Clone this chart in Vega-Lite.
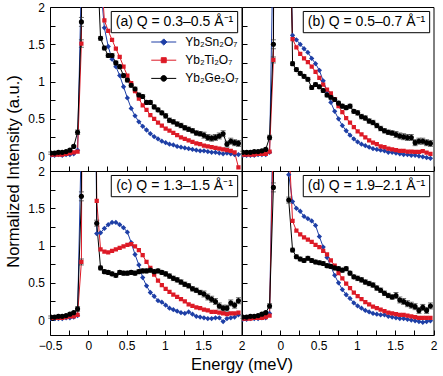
{
"$schema":"https://vega.github.io/schema/vega-lite/v6.json",
"autosize":{"type":"pad"},
"padding":{"left":4,"top":0,"right":5,"bottom":5},
"background":"white",
"config":{
"font":"Liberation Sans",
"view":{"stroke":"#000","strokeWidth":1},
"axis":{"domain":false,"grid":false,"tickSize":-5,"tickColor":"#000","tickWidth":1,"labelFontSize":12,"labelColor":"#000","labelFlush":false,"labelOverlap":false,"labelSeparation":-30,"labelPadding":10.5,"titleFontSize":16.5,"titleFontWeight":"normal","titleColor":"#000"}
},
"datasets":{"d":[
{"p":"a","s":"Sn","x":-0.49,"y":0.01},{"p":"a","s":"Sn","x":-0.44,"y":0.01},{"p":"a","s":"Sn","x":-0.39,"y":0.02},{"p":"a","s":"Sn","x":-0.34,"y":0.01},{"p":"a","s":"Sn","x":-0.29,"y":0.02},{"p":"a","s":"Sn","x":-0.24,"y":0.02},{"p":"a","s":"Sn","x":-0.19,"y":0.03},{"p":"a","s":"Sn","x":-0.14,"y":0.08},{"p":"a","s":"Sn","x":-0.09,"y":2.4},{"p":"a","s":"Sn","x":-0.04,"y":15},{"p":"a","s":"Sn","x":0.01,"y":25},{"p":"a","s":"Sn","x":0.06,"y":14},{"p":"a","s":"Sn","x":0.11,"y":4.5},{"p":"a","s":"Sn","x":0.16,"y":2.3},{"p":"a","s":"Sn","x":0.21,"y":1.72},{"p":"a","s":"Sn","x":0.26,"y":1.47},{"p":"a","s":"Sn","x":0.31,"y":1.30},{"p":"a","s":"Sn","x":0.36,"y":1.20},{"p":"a","s":"Sn","x":0.41,"y":1.08},{"p":"a","s":"Sn","x":0.46,"y":0.93},{"p":"a","s":"Sn","x":0.51,"y":0.78},{"p":"a","s":"Sn","x":0.56,"y":0.64},{"p":"a","s":"Sn","x":0.61,"y":0.54},{"p":"a","s":"Sn","x":0.66,"y":0.46},{"p":"a","s":"Sn","x":0.71,"y":0.40},{"p":"a","s":"Sn","x":0.76,"y":0.35},{"p":"a","s":"Sn","x":0.81,"y":0.30},{"p":"a","s":"Sn","x":0.86,"y":0.26},{"p":"a","s":"Sn","x":0.91,"y":0.23},{"p":"a","s":"Sn","x":0.96,"y":0.20},{"p":"a","s":"Sn","x":1.01,"y":0.18},{"p":"a","s":"Sn","x":1.06,"y":0.16},{"p":"a","s":"Sn","x":1.11,"y":0.15},{"p":"a","s":"Sn","x":1.16,"y":0.13},{"p":"a","s":"Sn","x":1.21,"y":0.12},{"p":"a","s":"Sn","x":1.26,"y":0.11},{"p":"a","s":"Sn","x":1.31,"y":0.10},{"p":"a","s":"Sn","x":1.36,"y":0.09},{"p":"a","s":"Sn","x":1.41,"y":0.08},{"p":"a","s":"Sn","x":1.46,"y":0.07},{"p":"a","s":"Sn","x":1.51,"y":0.07},{"p":"a","s":"Sn","x":1.56,"y":0.06},{"p":"a","s":"Sn","x":1.61,"y":0.05},{"p":"a","s":"Sn","x":1.66,"y":0.05},{"p":"a","s":"Sn","x":1.71,"y":0.04},{"p":"a","s":"Sn","x":1.76,"y":0.03},{"p":"a","s":"Sn","x":1.81,"y":0.04},{"p":"a","s":"Sn","x":1.86,"y":0.03},{"p":"a","s":"Sn","x":1.91,"y":0.02},{"p":"a","s":"Sn","x":1.96,"y":0.02},
{"p":"a","s":"Ti","x":-0.49,"y":0.02},{"p":"a","s":"Ti","x":-0.44,"y":0.02},{"p":"a","s":"Ti","x":-0.39,"y":0.02},{"p":"a","s":"Ti","x":-0.34,"y":0.02},{"p":"a","s":"Ti","x":-0.29,"y":0.03},{"p":"a","s":"Ti","x":-0.24,"y":0.04},{"p":"a","s":"Ti","x":-0.19,"y":0.05},{"p":"a","s":"Ti","x":-0.14,"y":0.06},{"p":"a","s":"Ti","x":-0.09,"y":1.51,"e":0.05},{"p":"a","s":"Ti","x":-0.04,"y":14},{"p":"a","s":"Ti","x":0.01,"y":24},{"p":"a","s":"Ti","x":0.06,"y":13},{"p":"a","s":"Ti","x":0.11,"y":5},{"p":"a","s":"Ti","x":0.16,"y":2.6},{"p":"a","s":"Ti","x":0.21,"y":1.82},{"p":"a","s":"Ti","x":0.26,"y":1.68},{"p":"a","s":"Ti","x":0.31,"y":1.56},{"p":"a","s":"Ti","x":0.36,"y":1.44},{"p":"a","s":"Ti","x":0.41,"y":1.33},{"p":"a","s":"Ti","x":0.46,"y":1.20},{"p":"a","s":"Ti","x":0.51,"y":1.08},{"p":"a","s":"Ti","x":0.56,"y":0.98},{"p":"a","s":"Ti","x":0.61,"y":0.87},{"p":"a","s":"Ti","x":0.66,"y":0.77},{"p":"a","s":"Ti","x":0.71,"y":0.68},{"p":"a","s":"Ti","x":0.76,"y":0.62},{"p":"a","s":"Ti","x":0.81,"y":0.55},{"p":"a","s":"Ti","x":0.86,"y":0.50},{"p":"a","s":"Ti","x":0.91,"y":0.45},{"p":"a","s":"Ti","x":0.96,"y":0.41},{"p":"a","s":"Ti","x":1.01,"y":0.37},{"p":"a","s":"Ti","x":1.06,"y":0.34},{"p":"a","s":"Ti","x":1.11,"y":0.31},{"p":"a","s":"Ti","x":1.16,"y":0.28},{"p":"a","s":"Ti","x":1.21,"y":0.25},{"p":"a","s":"Ti","x":1.26,"y":0.23},{"p":"a","s":"Ti","x":1.31,"y":0.21},{"p":"a","s":"Ti","x":1.36,"y":0.19},{"p":"a","s":"Ti","x":1.41,"y":0.17},{"p":"a","s":"Ti","x":1.46,"y":0.16},{"p":"a","s":"Ti","x":1.51,"y":0.14},{"p":"a","s":"Ti","x":1.56,"y":0.13},{"p":"a","s":"Ti","x":1.61,"y":0.12},{"p":"a","s":"Ti","x":1.66,"y":0.11},{"p":"a","s":"Ti","x":1.71,"y":0.10},{"p":"a","s":"Ti","x":1.76,"y":0.09},{"p":"a","s":"Ti","x":1.81,"y":0.08},{"p":"a","s":"Ti","x":1.86,"y":0.07},{"p":"a","s":"Ti","x":1.91,"y":0.05},{"p":"a","s":"Ti","x":1.96,"y":-0.15},
{"p":"a","s":"Ge","x":-0.49,"y":0.04,"e":0.015},{"p":"a","s":"Ge","x":-0.44,"y":0.04,"e":0.015},{"p":"a","s":"Ge","x":-0.39,"y":0.05,"e":0.015},{"p":"a","s":"Ge","x":-0.34,"y":0.05,"e":0.015},{"p":"a","s":"Ge","x":-0.29,"y":0.06,"e":0.015},{"p":"a","s":"Ge","x":-0.24,"y":0.08,"e":0.015},{"p":"a","s":"Ge","x":-0.19,"y":0.13,"e":0.015},{"p":"a","s":"Ge","x":-0.14,"y":0.32,"e":0.03},{"p":"a","s":"Ge","x":-0.09,"y":1.80,"e":0.06},{"p":"a","s":"Ge","x":-0.04,"y":14},{"p":"a","s":"Ge","x":0.01,"y":22},{"p":"a","s":"Ge","x":0.06,"y":10},{"p":"a","s":"Ge","x":0.11,"y":2.8},{"p":"a","s":"Ge","x":0.16,"y":1.58,"e":0.025},{"p":"a","s":"Ge","x":0.21,"y":1.45,"e":0.025},{"p":"a","s":"Ge","x":0.26,"y":1.35,"e":0.025},{"p":"a","s":"Ge","x":0.31,"y":1.35,"e":0.025},{"p":"a","s":"Ge","x":0.36,"y":1.25,"e":0.025},{"p":"a","s":"Ge","x":0.41,"y":1.20,"e":0.025},{"p":"a","s":"Ge","x":0.46,"y":1.08,"e":0.025},{"p":"a","s":"Ge","x":0.51,"y":1.02,"e":0.025},{"p":"a","s":"Ge","x":0.56,"y":0.95,"e":0.025},{"p":"a","s":"Ge","x":0.61,"y":0.90,"e":0.025},{"p":"a","s":"Ge","x":0.66,"y":0.82,"e":0.025},{"p":"a","s":"Ge","x":0.71,"y":0.80,"e":0.025},{"p":"a","s":"Ge","x":0.76,"y":0.72,"e":0.025},{"p":"a","s":"Ge","x":0.81,"y":0.72,"e":0.025},{"p":"a","s":"Ge","x":0.86,"y":0.66,"e":0.025},{"p":"a","s":"Ge","x":0.91,"y":0.62,"e":0.025},{"p":"a","s":"Ge","x":0.96,"y":0.58,"e":0.025},{"p":"a","s":"Ge","x":1.01,"y":0.54,"e":0.03},{"p":"a","s":"Ge","x":1.06,"y":0.48,"e":0.03},{"p":"a","s":"Ge","x":1.11,"y":0.46,"e":0.03},{"p":"a","s":"Ge","x":1.16,"y":0.43,"e":0.03},{"p":"a","s":"Ge","x":1.21,"y":0.41,"e":0.03},{"p":"a","s":"Ge","x":1.26,"y":0.38,"e":0.03},{"p":"a","s":"Ge","x":1.31,"y":0.36,"e":0.03},{"p":"a","s":"Ge","x":1.36,"y":0.34,"e":0.03},{"p":"a","s":"Ge","x":1.41,"y":0.31,"e":0.03},{"p":"a","s":"Ge","x":1.46,"y":0.30,"e":0.03},{"p":"a","s":"Ge","x":1.51,"y":0.28,"e":0.04},{"p":"a","s":"Ge","x":1.56,"y":0.25,"e":0.04},{"p":"a","s":"Ge","x":1.61,"y":0.24,"e":0.04},{"p":"a","s":"Ge","x":1.66,"y":0.25,"e":0.04},{"p":"a","s":"Ge","x":1.71,"y":0.27,"e":0.04},{"p":"a","s":"Ge","x":1.76,"y":0.30,"e":0.04},{"p":"a","s":"Ge","x":1.81,"y":0.16,"e":0.04},{"p":"a","s":"Ge","x":1.86,"y":0.20,"e":0.04},{"p":"a","s":"Ge","x":1.91,"y":0.18,"e":0.04},{"p":"a","s":"Ge","x":1.96,"y":0.17,"e":0.04},
{"p":"b","s":"Sn","x":-0.49,"y":0.01},{"p":"b","s":"Sn","x":-0.44,"y":0.01},{"p":"b","s":"Sn","x":-0.39,"y":0.01},{"p":"b","s":"Sn","x":-0.34,"y":0.01},{"p":"b","s":"Sn","x":-0.29,"y":0.02},{"p":"b","s":"Sn","x":-0.24,"y":0.02},{"p":"b","s":"Sn","x":-0.19,"y":0.02},{"p":"b","s":"Sn","x":-0.14,"y":0.05},{"p":"b","s":"Sn","x":-0.09,"y":3},{"p":"b","s":"Sn","x":-0.04,"y":20},{"p":"b","s":"Sn","x":0.01,"y":30},{"p":"b","s":"Sn","x":0.06,"y":15},{"p":"b","s":"Sn","x":0.11,"y":3.5},{"p":"b","s":"Sn","x":0.16,"y":1.62},{"p":"b","s":"Sn","x":0.21,"y":1.56},{"p":"b","s":"Sn","x":0.26,"y":1.50},{"p":"b","s":"Sn","x":0.31,"y":1.44},{"p":"b","s":"Sn","x":0.36,"y":1.39},{"p":"b","s":"Sn","x":0.41,"y":1.31},{"p":"b","s":"Sn","x":0.46,"y":1.24},{"p":"b","s":"Sn","x":0.51,"y":1.15},{"p":"b","s":"Sn","x":0.56,"y":1.01},{"p":"b","s":"Sn","x":0.61,"y":0.87},{"p":"b","s":"Sn","x":0.66,"y":0.72},{"p":"b","s":"Sn","x":0.71,"y":0.60},{"p":"b","s":"Sn","x":0.76,"y":0.50},{"p":"b","s":"Sn","x":0.81,"y":0.41},{"p":"b","s":"Sn","x":0.86,"y":0.34},{"p":"b","s":"Sn","x":0.91,"y":0.28},{"p":"b","s":"Sn","x":0.96,"y":0.23},{"p":"b","s":"Sn","x":1.01,"y":0.19},{"p":"b","s":"Sn","x":1.06,"y":0.16},{"p":"b","s":"Sn","x":1.11,"y":0.14},{"p":"b","s":"Sn","x":1.16,"y":0.12},{"p":"b","s":"Sn","x":1.21,"y":0.10},{"p":"b","s":"Sn","x":1.26,"y":0.09},{"p":"b","s":"Sn","x":1.31,"y":0.08},{"p":"b","s":"Sn","x":1.36,"y":0.07},{"p":"b","s":"Sn","x":1.41,"y":0.05},{"p":"b","s":"Sn","x":1.46,"y":0.05},{"p":"b","s":"Sn","x":1.51,"y":0.04},{"p":"b","s":"Sn","x":1.56,"y":0.03},{"p":"b","s":"Sn","x":1.61,"y":0.02},{"p":"b","s":"Sn","x":1.66,"y":0.02},{"p":"b","s":"Sn","x":1.71,"y":0.01},{"p":"b","s":"Sn","x":1.76,"y":0.01},{"p":"b","s":"Sn","x":1.81,"y":0.0},{"p":"b","s":"Sn","x":1.86,"y":-0.01},{"p":"b","s":"Sn","x":1.91,"y":-0.02},{"p":"b","s":"Sn","x":1.96,"y":-0.03},
{"p":"b","s":"Ti","x":-0.49,"y":0.02},{"p":"b","s":"Ti","x":-0.44,"y":0.02},{"p":"b","s":"Ti","x":-0.39,"y":0.02},{"p":"b","s":"Ti","x":-0.34,"y":0.02},{"p":"b","s":"Ti","x":-0.29,"y":0.03},{"p":"b","s":"Ti","x":-0.24,"y":0.03},{"p":"b","s":"Ti","x":-0.19,"y":0.03},{"p":"b","s":"Ti","x":-0.14,"y":0.06},{"p":"b","s":"Ti","x":-0.09,"y":1.29,"e":0.04},{"p":"b","s":"Ti","x":-0.04,"y":18},{"p":"b","s":"Ti","x":0.01,"y":28},{"p":"b","s":"Ti","x":0.06,"y":14},{"p":"b","s":"Ti","x":0.11,"y":3.2},{"p":"b","s":"Ti","x":0.16,"y":1.57},{"p":"b","s":"Ti","x":0.21,"y":1.46},{"p":"b","s":"Ti","x":0.26,"y":1.37},{"p":"b","s":"Ti","x":0.31,"y":1.31},{"p":"b","s":"Ti","x":0.36,"y":1.26},{"p":"b","s":"Ti","x":0.41,"y":1.20},{"p":"b","s":"Ti","x":0.46,"y":1.13},{"p":"b","s":"Ti","x":0.51,"y":1.05},{"p":"b","s":"Ti","x":0.56,"y":0.96},{"p":"b","s":"Ti","x":0.61,"y":0.89},{"p":"b","s":"Ti","x":0.66,"y":0.84},{"p":"b","s":"Ti","x":0.71,"y":0.76},{"p":"b","s":"Ti","x":0.76,"y":0.67},{"p":"b","s":"Ti","x":0.81,"y":0.59},{"p":"b","s":"Ti","x":0.86,"y":0.51},{"p":"b","s":"Ti","x":0.91,"y":0.45},{"p":"b","s":"Ti","x":0.96,"y":0.39},{"p":"b","s":"Ti","x":1.01,"y":0.33},{"p":"b","s":"Ti","x":1.06,"y":0.29},{"p":"b","s":"Ti","x":1.11,"y":0.25},{"p":"b","s":"Ti","x":1.16,"y":0.21},{"p":"b","s":"Ti","x":1.21,"y":0.18},{"p":"b","s":"Ti","x":1.26,"y":0.16},{"p":"b","s":"Ti","x":1.31,"y":0.13},{"p":"b","s":"Ti","x":1.36,"y":0.12},{"p":"b","s":"Ti","x":1.41,"y":0.10},{"p":"b","s":"Ti","x":1.46,"y":0.09},{"p":"b","s":"Ti","x":1.51,"y":0.08},{"p":"b","s":"Ti","x":1.56,"y":0.07},{"p":"b","s":"Ti","x":1.61,"y":0.07},{"p":"b","s":"Ti","x":1.66,"y":0.06},{"p":"b","s":"Ti","x":1.71,"y":0.06},{"p":"b","s":"Ti","x":1.76,"y":0.055},{"p":"b","s":"Ti","x":1.81,"y":0.055},{"p":"b","s":"Ti","x":1.86,"y":0.065},{"p":"b","s":"Ti","x":1.91,"y":0.045},{"p":"b","s":"Ti","x":1.96,"y":0.03},
{"p":"b","s":"Ge","x":-0.49,"y":0.05,"e":0.015},{"p":"b","s":"Ge","x":-0.44,"y":0.05,"e":0.015},{"p":"b","s":"Ge","x":-0.39,"y":0.05,"e":0.015},{"p":"b","s":"Ge","x":-0.34,"y":0.06,"e":0.015},{"p":"b","s":"Ge","x":-0.29,"y":0.06,"e":0.015},{"p":"b","s":"Ge","x":-0.24,"y":0.07,"e":0.015},{"p":"b","s":"Ge","x":-0.19,"y":0.09,"e":0.015},{"p":"b","s":"Ge","x":-0.14,"y":0.25,"e":0.03},{"p":"b","s":"Ge","x":-0.09,"y":1.50,"e":0.06},{"p":"b","s":"Ge","x":-0.04,"y":15},{"p":"b","s":"Ge","x":0.01,"y":25},{"p":"b","s":"Ge","x":0.06,"y":12},{"p":"b","s":"Ge","x":0.11,"y":5},{"p":"b","s":"Ge","x":0.16,"y":1.24,"e":0.025},{"p":"b","s":"Ge","x":0.21,"y":1.16,"e":0.025},{"p":"b","s":"Ge","x":0.26,"y":1.11,"e":0.025},{"p":"b","s":"Ge","x":0.31,"y":1.07,"e":0.025},{"p":"b","s":"Ge","x":0.36,"y":1.03,"e":0.025},{"p":"b","s":"Ge","x":0.41,"y":0.92,"e":0.025},{"p":"b","s":"Ge","x":0.46,"y":0.96,"e":0.025},{"p":"b","s":"Ge","x":0.51,"y":0.93,"e":0.025},{"p":"b","s":"Ge","x":0.56,"y":0.88,"e":0.025},{"p":"b","s":"Ge","x":0.61,"y":0.82,"e":0.025},{"p":"b","s":"Ge","x":0.66,"y":0.79,"e":0.025},{"p":"b","s":"Ge","x":0.71,"y":0.76,"e":0.025},{"p":"b","s":"Ge","x":0.76,"y":0.71,"e":0.025},{"p":"b","s":"Ge","x":0.81,"y":0.67,"e":0.025},{"p":"b","s":"Ge","x":0.86,"y":0.65,"e":0.025},{"p":"b","s":"Ge","x":0.91,"y":0.67,"e":0.025},{"p":"b","s":"Ge","x":0.96,"y":0.60,"e":0.025},{"p":"b","s":"Ge","x":1.01,"y":0.58,"e":0.03},{"p":"b","s":"Ge","x":1.06,"y":0.53,"e":0.03},{"p":"b","s":"Ge","x":1.11,"y":0.51,"e":0.03},{"p":"b","s":"Ge","x":1.16,"y":0.47,"e":0.03},{"p":"b","s":"Ge","x":1.21,"y":0.45,"e":0.03},{"p":"b","s":"Ge","x":1.26,"y":0.41,"e":0.03},{"p":"b","s":"Ge","x":1.31,"y":0.37,"e":0.03},{"p":"b","s":"Ge","x":1.36,"y":0.34,"e":0.03},{"p":"b","s":"Ge","x":1.41,"y":0.32,"e":0.03},{"p":"b","s":"Ge","x":1.46,"y":0.31,"e":0.03},{"p":"b","s":"Ge","x":1.51,"y":0.29,"e":0.04},{"p":"b","s":"Ge","x":1.56,"y":0.27,"e":0.04},{"p":"b","s":"Ge","x":1.61,"y":0.26,"e":0.04},{"p":"b","s":"Ge","x":1.66,"y":0.25,"e":0.04},{"p":"b","s":"Ge","x":1.71,"y":0.25,"e":0.04},{"p":"b","s":"Ge","x":1.76,"y":0.18,"e":0.04},{"p":"b","s":"Ge","x":1.81,"y":0.20,"e":0.04},{"p":"b","s":"Ge","x":1.86,"y":0.20,"e":0.04},{"p":"b","s":"Ge","x":1.91,"y":0.18,"e":0.04},{"p":"b","s":"Ge","x":1.96,"y":0.17,"e":0.04},
{"p":"c","s":"Sn","x":-0.49,"y":0.02},{"p":"c","s":"Sn","x":-0.44,"y":0.02},{"p":"c","s":"Sn","x":-0.39,"y":0.02},{"p":"c","s":"Sn","x":-0.34,"y":0.02},{"p":"c","s":"Sn","x":-0.29,"y":0.03},{"p":"c","s":"Sn","x":-0.24,"y":0.03},{"p":"c","s":"Sn","x":-0.19,"y":0.04},{"p":"c","s":"Sn","x":-0.14,"y":0.06},{"p":"c","s":"Sn","x":-0.09,"y":2.5},{"p":"c","s":"Sn","x":-0.04,"y":20},{"p":"c","s":"Sn","x":0.01,"y":30},{"p":"c","s":"Sn","x":0.06,"y":8},{"p":"c","s":"Sn","x":0.11,"y":1.16},{"p":"c","s":"Sn","x":0.16,"y":1.17},{"p":"c","s":"Sn","x":0.21,"y":1.23},{"p":"c","s":"Sn","x":0.26,"y":1.28},{"p":"c","s":"Sn","x":0.31,"y":1.31},{"p":"c","s":"Sn","x":0.36,"y":1.31},{"p":"c","s":"Sn","x":0.41,"y":1.28},{"p":"c","s":"Sn","x":0.46,"y":1.24},{"p":"c","s":"Sn","x":0.51,"y":1.18},{"p":"c","s":"Sn","x":0.56,"y":1.04},{"p":"c","s":"Sn","x":0.61,"y":0.88},{"p":"c","s":"Sn","x":0.66,"y":0.74},{"p":"c","s":"Sn","x":0.71,"y":0.57},{"p":"c","s":"Sn","x":0.76,"y":0.46},{"p":"c","s":"Sn","x":0.81,"y":0.37},{"p":"c","s":"Sn","x":0.86,"y":0.32},{"p":"c","s":"Sn","x":0.91,"y":0.26},{"p":"c","s":"Sn","x":0.96,"y":0.24},{"p":"c","s":"Sn","x":1.01,"y":0.20},{"p":"c","s":"Sn","x":1.06,"y":0.16},{"p":"c","s":"Sn","x":1.11,"y":0.14},{"p":"c","s":"Sn","x":1.16,"y":0.12},{"p":"c","s":"Sn","x":1.21,"y":0.10},{"p":"c","s":"Sn","x":1.26,"y":0.09},{"p":"c","s":"Sn","x":1.31,"y":0.11},{"p":"c","s":"Sn","x":1.36,"y":0.08},{"p":"c","s":"Sn","x":1.41,"y":0.05},{"p":"c","s":"Sn","x":1.46,"y":0.04},{"p":"c","s":"Sn","x":1.51,"y":0.03},{"p":"c","s":"Sn","x":1.56,"y":0.02},{"p":"c","s":"Sn","x":1.61,"y":0.02},{"p":"c","s":"Sn","x":1.66,"y":0.03},{"p":"c","s":"Sn","x":1.71,"y":0.03},{"p":"c","s":"Sn","x":1.76,"y":-0.02},{"p":"c","s":"Sn","x":1.81,"y":0.02},{"p":"c","s":"Sn","x":1.86,"y":0.03},{"p":"c","s":"Sn","x":1.91,"y":0.04},{"p":"c","s":"Sn","x":1.96,"y":0.07},
{"p":"c","s":"Ti","x":-0.49,"y":0.03},{"p":"c","s":"Ti","x":-0.44,"y":0.03},{"p":"c","s":"Ti","x":-0.39,"y":0.03},{"p":"c","s":"Ti","x":-0.34,"y":0.03},{"p":"c","s":"Ti","x":-0.29,"y":0.04},{"p":"c","s":"Ti","x":-0.24,"y":0.05},{"p":"c","s":"Ti","x":-0.19,"y":0.05},{"p":"c","s":"Ti","x":-0.14,"y":0.07},{"p":"c","s":"Ti","x":-0.09,"y":0.78,"e":0.04},{"p":"c","s":"Ti","x":-0.04,"y":14},{"p":"c","s":"Ti","x":0.01,"y":25},{"p":"c","s":"Ti","x":0.06,"y":10},{"p":"c","s":"Ti","x":0.11,"y":1.60},{"p":"c","s":"Ti","x":0.16,"y":0.95},{"p":"c","s":"Ti","x":0.21,"y":0.92},{"p":"c","s":"Ti","x":0.26,"y":0.91},{"p":"c","s":"Ti","x":0.31,"y":0.93},{"p":"c","s":"Ti","x":0.36,"y":0.95},{"p":"c","s":"Ti","x":0.41,"y":0.97},{"p":"c","s":"Ti","x":0.46,"y":0.99},{"p":"c","s":"Ti","x":0.51,"y":1.01},{"p":"c","s":"Ti","x":0.56,"y":1.02},{"p":"c","s":"Ti","x":0.61,"y":0.99},{"p":"c","s":"Ti","x":0.66,"y":0.94},{"p":"c","s":"Ti","x":0.71,"y":0.87},{"p":"c","s":"Ti","x":0.76,"y":0.78},{"p":"c","s":"Ti","x":0.81,"y":0.70},{"p":"c","s":"Ti","x":0.86,"y":0.61},{"p":"c","s":"Ti","x":0.91,"y":0.53},{"p":"c","s":"Ti","x":0.96,"y":0.47},{"p":"c","s":"Ti","x":1.01,"y":0.42},{"p":"c","s":"Ti","x":1.06,"y":0.38},{"p":"c","s":"Ti","x":1.11,"y":0.34},{"p":"c","s":"Ti","x":1.16,"y":0.31},{"p":"c","s":"Ti","x":1.21,"y":0.28},{"p":"c","s":"Ti","x":1.26,"y":0.25},{"p":"c","s":"Ti","x":1.31,"y":0.21},{"p":"c","s":"Ti","x":1.36,"y":0.19},{"p":"c","s":"Ti","x":1.41,"y":0.17},{"p":"c","s":"Ti","x":1.46,"y":0.16},{"p":"c","s":"Ti","x":1.51,"y":0.14},{"p":"c","s":"Ti","x":1.56,"y":0.13},{"p":"c","s":"Ti","x":1.61,"y":0.11},{"p":"c","s":"Ti","x":1.66,"y":0.11},{"p":"c","s":"Ti","x":1.71,"y":0.10},{"p":"c","s":"Ti","x":1.76,"y":0.09},{"p":"c","s":"Ti","x":1.81,"y":0.08},{"p":"c","s":"Ti","x":1.86,"y":0.09},{"p":"c","s":"Ti","x":1.91,"y":0.09},{"p":"c","s":"Ti","x":1.96,"y":0.10},
{"p":"c","s":"Ge","x":-0.49,"y":0.04,"e":0.015},{"p":"c","s":"Ge","x":-0.44,"y":0.04,"e":0.015},{"p":"c","s":"Ge","x":-0.39,"y":0.05,"e":0.015},{"p":"c","s":"Ge","x":-0.34,"y":0.05,"e":0.015},{"p":"c","s":"Ge","x":-0.29,"y":0.06,"e":0.015},{"p":"c","s":"Ge","x":-0.24,"y":0.08,"e":0.015},{"p":"c","s":"Ge","x":-0.19,"y":0.10,"e":0.015},{"p":"c","s":"Ge","x":-0.14,"y":0.15,"e":0.03},{"p":"c","s":"Ge","x":-0.09,"y":1.66,"e":0.06},{"p":"c","s":"Ge","x":-0.04,"y":15},{"p":"c","s":"Ge","x":0.01,"y":25},{"p":"c","s":"Ge","x":0.06,"y":10},{"p":"c","s":"Ge","x":0.11,"y":1.30,"e":0.04},{"p":"c","s":"Ge","x":0.16,"y":0.70,"e":0.025},{"p":"c","s":"Ge","x":0.21,"y":0.65,"e":0.025},{"p":"c","s":"Ge","x":0.26,"y":0.64,"e":0.025},{"p":"c","s":"Ge","x":0.31,"y":0.62,"e":0.025},{"p":"c","s":"Ge","x":0.36,"y":0.60,"e":0.025},{"p":"c","s":"Ge","x":0.41,"y":0.64,"e":0.025},{"p":"c","s":"Ge","x":0.46,"y":0.63,"e":0.025},{"p":"c","s":"Ge","x":0.51,"y":0.63,"e":0.025},{"p":"c","s":"Ge","x":0.56,"y":0.64,"e":0.025},{"p":"c","s":"Ge","x":0.61,"y":0.63,"e":0.025},{"p":"c","s":"Ge","x":0.66,"y":0.65,"e":0.025},{"p":"c","s":"Ge","x":0.71,"y":0.66,"e":0.025},{"p":"c","s":"Ge","x":0.76,"y":0.66,"e":0.025},{"p":"c","s":"Ge","x":0.81,"y":0.67,"e":0.025},{"p":"c","s":"Ge","x":0.86,"y":0.65,"e":0.025},{"p":"c","s":"Ge","x":0.91,"y":0.66,"e":0.025},{"p":"c","s":"Ge","x":0.96,"y":0.64,"e":0.025},{"p":"c","s":"Ge","x":1.01,"y":0.62,"e":0.03},{"p":"c","s":"Ge","x":1.06,"y":0.59,"e":0.03},{"p":"c","s":"Ge","x":1.11,"y":0.56,"e":0.03},{"p":"c","s":"Ge","x":1.16,"y":0.54,"e":0.03},{"p":"c","s":"Ge","x":1.21,"y":0.51,"e":0.03},{"p":"c","s":"Ge","x":1.26,"y":0.48,"e":0.03},{"p":"c","s":"Ge","x":1.31,"y":0.46,"e":0.03},{"p":"c","s":"Ge","x":1.36,"y":0.42,"e":0.03},{"p":"c","s":"Ge","x":1.41,"y":0.40,"e":0.03},{"p":"c","s":"Ge","x":1.46,"y":0.37,"e":0.03},{"p":"c","s":"Ge","x":1.51,"y":0.35,"e":0.04},{"p":"c","s":"Ge","x":1.56,"y":0.31,"e":0.04},{"p":"c","s":"Ge","x":1.61,"y":0.28,"e":0.04},{"p":"c","s":"Ge","x":1.66,"y":0.25,"e":0.04},{"p":"c","s":"Ge","x":1.71,"y":0.19,"e":0.04},{"p":"c","s":"Ge","x":1.76,"y":0.16,"e":0.04},{"p":"c","s":"Ge","x":1.81,"y":0.16,"e":0.04},{"p":"c","s":"Ge","x":1.86,"y":0.23,"e":0.04},{"p":"c","s":"Ge","x":1.91,"y":0.20,"e":0.04},{"p":"c","s":"Ge","x":1.96,"y":0.26,"e":0.04},
{"p":"d","s":"Sn","x":-0.49,"y":0.01},{"p":"d","s":"Sn","x":-0.44,"y":0.01},{"p":"d","s":"Sn","x":-0.39,"y":0.02},{"p":"d","s":"Sn","x":-0.34,"y":0.02},{"p":"d","s":"Sn","x":-0.29,"y":0.02},{"p":"d","s":"Sn","x":-0.24,"y":0.03},{"p":"d","s":"Sn","x":-0.19,"y":0.03},{"p":"d","s":"Sn","x":-0.14,"y":0.09},{"p":"d","s":"Sn","x":-0.09,"y":3},{"p":"d","s":"Sn","x":-0.04,"y":20},{"p":"d","s":"Sn","x":0.01,"y":30},{"p":"d","s":"Sn","x":0.06,"y":10},{"p":"d","s":"Sn","x":0.11,"y":1.95},{"p":"d","s":"Sn","x":0.16,"y":1.59},{"p":"d","s":"Sn","x":0.21,"y":1.50},{"p":"d","s":"Sn","x":0.26,"y":1.46},{"p":"d","s":"Sn","x":0.31,"y":1.39},{"p":"d","s":"Sn","x":0.36,"y":1.36},{"p":"d","s":"Sn","x":0.41,"y":1.33},{"p":"d","s":"Sn","x":0.46,"y":1.27},{"p":"d","s":"Sn","x":0.51,"y":1.12},{"p":"d","s":"Sn","x":0.56,"y":0.98},{"p":"d","s":"Sn","x":0.61,"y":0.84},{"p":"d","s":"Sn","x":0.66,"y":0.72},{"p":"d","s":"Sn","x":0.71,"y":0.60},{"p":"d","s":"Sn","x":0.76,"y":0.50},{"p":"d","s":"Sn","x":0.81,"y":0.41},{"p":"d","s":"Sn","x":0.86,"y":0.34},{"p":"d","s":"Sn","x":0.91,"y":0.29},{"p":"d","s":"Sn","x":0.96,"y":0.23},{"p":"d","s":"Sn","x":1.01,"y":0.19},{"p":"d","s":"Sn","x":1.06,"y":0.16},{"p":"d","s":"Sn","x":1.11,"y":0.13},{"p":"d","s":"Sn","x":1.16,"y":0.11},{"p":"d","s":"Sn","x":1.21,"y":0.09},{"p":"d","s":"Sn","x":1.26,"y":0.08},{"p":"d","s":"Sn","x":1.31,"y":0.07},{"p":"d","s":"Sn","x":1.36,"y":0.07},{"p":"d","s":"Sn","x":1.41,"y":0.05},{"p":"d","s":"Sn","x":1.46,"y":0.04},{"p":"d","s":"Sn","x":1.51,"y":0.03},{"p":"d","s":"Sn","x":1.56,"y":0.02},{"p":"d","s":"Sn","x":1.61,"y":0.02},{"p":"d","s":"Sn","x":1.66,"y":0.01},{"p":"d","s":"Sn","x":1.71,"y":0.0},{"p":"d","s":"Sn","x":1.76,"y":-0.01},{"p":"d","s":"Sn","x":1.81,"y":-0.02},{"p":"d","s":"Sn","x":1.86,"y":-0.03},{"p":"d","s":"Sn","x":1.91,"y":-0.02},{"p":"d","s":"Sn","x":1.96,"y":-0.01},
{"p":"d","s":"Ti","x":-0.49,"y":0.02},{"p":"d","s":"Ti","x":-0.44,"y":0.02},{"p":"d","s":"Ti","x":-0.39,"y":0.02},{"p":"d","s":"Ti","x":-0.34,"y":0.03},{"p":"d","s":"Ti","x":-0.29,"y":0.03},{"p":"d","s":"Ti","x":-0.24,"y":0.03},{"p":"d","s":"Ti","x":-0.19,"y":0.04},{"p":"d","s":"Ti","x":-0.14,"y":0.06},{"p":"d","s":"Ti","x":-0.09,"y":2.6},{"p":"d","s":"Ti","x":-0.04,"y":18},{"p":"d","s":"Ti","x":0.01,"y":28},{"p":"d","s":"Ti","x":0.06,"y":12},{"p":"d","s":"Ti","x":0.11,"y":2.4},{"p":"d","s":"Ti","x":0.16,"y":1.33},{"p":"d","s":"Ti","x":0.21,"y":1.20},{"p":"d","s":"Ti","x":0.26,"y":1.15},{"p":"d","s":"Ti","x":0.31,"y":1.11},{"p":"d","s":"Ti","x":0.36,"y":1.08},{"p":"d","s":"Ti","x":0.41,"y":1.05},{"p":"d","s":"Ti","x":0.46,"y":1.01},{"p":"d","s":"Ti","x":0.51,"y":0.98},{"p":"d","s":"Ti","x":0.56,"y":0.93},{"p":"d","s":"Ti","x":0.61,"y":0.88},{"p":"d","s":"Ti","x":0.66,"y":0.80},{"p":"d","s":"Ti","x":0.71,"y":0.73},{"p":"d","s":"Ti","x":0.76,"y":0.63},{"p":"d","s":"Ti","x":0.81,"y":0.56},{"p":"d","s":"Ti","x":0.86,"y":0.49},{"p":"d","s":"Ti","x":0.91,"y":0.43},{"p":"d","s":"Ti","x":0.96,"y":0.37},{"p":"d","s":"Ti","x":1.01,"y":0.32},{"p":"d","s":"Ti","x":1.06,"y":0.28},{"p":"d","s":"Ti","x":1.11,"y":0.24},{"p":"d","s":"Ti","x":1.16,"y":0.21},{"p":"d","s":"Ti","x":1.21,"y":0.18},{"p":"d","s":"Ti","x":1.26,"y":0.16},{"p":"d","s":"Ti","x":1.31,"y":0.14},{"p":"d","s":"Ti","x":1.36,"y":0.12},{"p":"d","s":"Ti","x":1.41,"y":0.10},{"p":"d","s":"Ti","x":1.46,"y":0.09},{"p":"d","s":"Ti","x":1.51,"y":0.08},{"p":"d","s":"Ti","x":1.56,"y":0.07},{"p":"d","s":"Ti","x":1.61,"y":0.07},{"p":"d","s":"Ti","x":1.66,"y":0.06},{"p":"d","s":"Ti","x":1.71,"y":0.05},{"p":"d","s":"Ti","x":1.76,"y":0.04},{"p":"d","s":"Ti","x":1.81,"y":0.03},{"p":"d","s":"Ti","x":1.86,"y":0.03},{"p":"d","s":"Ti","x":1.91,"y":0.03},{"p":"d","s":"Ti","x":1.96,"y":0.03},
{"p":"d","s":"Ge","x":-0.49,"y":0.04,"e":0.015},{"p":"d","s":"Ge","x":-0.44,"y":0.04,"e":0.015},{"p":"d","s":"Ge","x":-0.39,"y":0.05,"e":0.015},{"p":"d","s":"Ge","x":-0.34,"y":0.05,"e":0.015},{"p":"d","s":"Ge","x":-0.29,"y":0.06,"e":0.015},{"p":"d","s":"Ge","x":-0.24,"y":0.08,"e":0.015},{"p":"d","s":"Ge","x":-0.19,"y":0.10,"e":0.015},{"p":"d","s":"Ge","x":-0.14,"y":0.19,"e":0.03},{"p":"d","s":"Ge","x":-0.09,"y":1.78,"e":0.06},{"p":"d","s":"Ge","x":-0.04,"y":15},{"p":"d","s":"Ge","x":0.01,"y":25},{"p":"d","s":"Ge","x":0.06,"y":8},{"p":"d","s":"Ge","x":0.11,"y":1.61,"e":0.04},{"p":"d","s":"Ge","x":0.16,"y":0.94,"e":0.025},{"p":"d","s":"Ge","x":0.21,"y":0.85,"e":0.025},{"p":"d","s":"Ge","x":0.26,"y":0.82,"e":0.025},{"p":"d","s":"Ge","x":0.31,"y":0.80,"e":0.025},{"p":"d","s":"Ge","x":0.36,"y":0.83,"e":0.025},{"p":"d","s":"Ge","x":0.41,"y":0.80,"e":0.025},{"p":"d","s":"Ge","x":0.46,"y":0.78,"e":0.025},{"p":"d","s":"Ge","x":0.51,"y":0.77,"e":0.025},{"p":"d","s":"Ge","x":0.56,"y":0.76,"e":0.025},{"p":"d","s":"Ge","x":0.61,"y":0.73,"e":0.025},{"p":"d","s":"Ge","x":0.66,"y":0.72,"e":0.025},{"p":"d","s":"Ge","x":0.71,"y":0.70,"e":0.025},{"p":"d","s":"Ge","x":0.76,"y":0.69,"e":0.025},{"p":"d","s":"Ge","x":0.81,"y":0.67,"e":0.025},{"p":"d","s":"Ge","x":0.86,"y":0.69,"e":0.025},{"p":"d","s":"Ge","x":0.91,"y":0.63,"e":0.025},{"p":"d","s":"Ge","x":0.96,"y":0.58,"e":0.025},{"p":"d","s":"Ge","x":1.01,"y":0.56,"e":0.03},{"p":"d","s":"Ge","x":1.06,"y":0.54,"e":0.03},{"p":"d","s":"Ge","x":1.11,"y":0.51,"e":0.03},{"p":"d","s":"Ge","x":1.16,"y":0.49,"e":0.03},{"p":"d","s":"Ge","x":1.21,"y":0.47,"e":0.03},{"p":"d","s":"Ge","x":1.26,"y":0.43,"e":0.03},{"p":"d","s":"Ge","x":1.31,"y":0.40,"e":0.03},{"p":"d","s":"Ge","x":1.36,"y":0.36,"e":0.03},{"p":"d","s":"Ge","x":1.41,"y":0.33,"e":0.03},{"p":"d","s":"Ge","x":1.46,"y":0.31,"e":0.03},{"p":"d","s":"Ge","x":1.51,"y":0.33,"e":0.04},{"p":"d","s":"Ge","x":1.56,"y":0.27,"e":0.04},{"p":"d","s":"Ge","x":1.61,"y":0.25,"e":0.04},{"p":"d","s":"Ge","x":1.66,"y":0.22,"e":0.04},{"p":"d","s":"Ge","x":1.71,"y":0.20,"e":0.04},{"p":"d","s":"Ge","x":1.76,"y":0.18,"e":0.04},{"p":"d","s":"Ge","x":1.81,"y":0.13,"e":0.04},{"p":"d","s":"Ge","x":1.86,"y":0.17,"e":0.04},{"p":"d","s":"Ge","x":1.91,"y":0.13,"e":0.04},{"p":"d","s":"Ge","x":1.96,"y":0.19,"e":0.04}
]},
"columns":2,
"spacing":0,
"bounds":"flush",
"resolve":{"scale":{"color":"independent"},"legend":{"color":"independent"}},
"concat":[
{"width":191.5,"height":164,
 "layer":[
  {"data":{"name":"d"},"transform":[{"filter":"datum.p=='a'"}],
   "encoding":{
    "x":{"field":"x","type":"quantitative","scale":{"domain":[-0.5,2],"nice":false,"zero":false},"axis":{"values":[-0.5,-0.25,0,0.25,0.5,0.75,1,1.25,1.5,1.75,2],"labels":false,"title":null}},
    "y":{"field":"y","type":"quantitative","scale":{"domain":[-0.2,2],"nice":false,"zero":false},"axis":{"values":[0,0.25,0.5,0.75,1,1.25,1.5,1.75,2],"format":"~g","labelOverlap":false,"labelBound":false,"labelExpr":"datum.value % 0.5 == 0 ? datum.label : ''","title":"Normalized Intensity (a.u.)","titleX":-37,"titleY":164,"titleBaseline":"middle","titleAnchor":"middle","titleAlign":"center"}}
   },
   "layer":[
    {"mark":{"type":"line","strokeWidth":1,"clip":true},
     "encoding":{"color":{"field":"s","type":"nominal","scale":{"domain":["Sn","Ti","Ge"],"range":["#1e3fa6","#dd1a26","#000000"]},
      "legend":{"orient":"none","legendX":106.75,"legendY":28,"title":null,"padding":0,"rowPadding":5.2,"symbolSize":156,"labelOffset":14.5,"labelFontSize":12,"labelColor":"#000","labelLimit":200,"symbolStrokeWidth":1,
       "labelExpr":"datum.value=='Sn' ? 'Yb₂Sn₂O₇' : datum.value=='Ti' ? 'Yb₂Ti₂O₇' : 'Yb₂Ge₂O₇'",
       "encode":{"symbols":{"update":{"shape":{"signal":"datum.value=='Sn' ? 'M-2,0H2M0,-0.5L0.5,0L0,0.5L-0.5,0Z' : datum.value=='Ti' ? 'M-2,0H2M-0.4,-0.4H0.4V0.4H-0.4Z' : 'M-2,0H2M0.45,0A0.45,0.45,0,1,1,-0.45,0A0.45,0.45,0,1,1,0.45,0Z'"},"fill":{"signal":"datum.value=='Sn' ? '#1e3fa6' : datum.value=='Ti' ? '#dd1a26' : '#000000'"},"stroke":{"signal":"datum.value=='Sn' ? '#1e3fa6' : datum.value=='Ti' ? '#dd1a26' : '#000000'"},"opacity":{"value":1},"size":{"value":156},"strokeWidth":{"value":1}}}}}}}},
    {"transform":[{"filter":"datum.e>0"}],"mark":{"type":"errorbar","ticks":true,"color":"#333333","thickness":1},"encoding":{"yError":{"field":"e"}}},
    {"transform":[{"filter":"datum.s=='Sn'"}],"mark":{"type":"point","shape":"diamond","filled":true,"color":"#1e3fa6","opacity":1,"size":28,"clip":true}},
    {"transform":[{"filter":"datum.s=='Ti'"}],"mark":{"type":"point","shape":"square","filled":true,"color":"#dd1a26","opacity":1,"size":18,"clip":true}},
    {"transform":[{"filter":"datum.s=='Ge'"}],"mark":{"type":"point","shape":"circle","filled":true,"color":"#000000","opacity":1,"size":26,"clip":true}}
   ]},
  {"data":{"values":[{"t":"(a) Q = 0.3–0.5 Å⁻¹"}]},"mark":{"type":"rect","fill":"#ffffff","stroke":"#000000","strokeWidth":1},
   "encoding":{"x":{"datum":0.3,"type":"quantitative","axis":{"values":[-0.5,-0.25,0,0.25,0.5,0.75,1,1.25,1.5,1.75,2],"labels":false,"title":null}},"x2":{"datum":1.95},
    "y":{"datum":1.94,"type":"quantitative","axis":{"values":[0,0.25,0.5,0.75,1,1.25,1.5,1.75,2],"format":"~g","labelOverlap":false,"labelBound":false,"labelExpr":"datum.value % 0.5 == 0 ? datum.label : ''","title":"Normalized Intensity (a.u.)","titleX":-37,"titleY":164,"titleBaseline":"middle","titleAnchor":"middle","titleAlign":"center"}},"y2":{"datum":1.655}}},
  {"data":{"values":[{"t":"(a) Q = 0.3–0.5 Å⁻¹"}]},"mark":{"type":"text","fontSize":14,"color":"#000000"},
   "encoding":{"x":{"datum":1.125,"type":"quantitative","axis":{"values":[-0.5,-0.25,0,0.25,0.5,0.75,1,1.25,1.5,1.75,2],"labels":false,"title":null}},
    "y":{"datum":1.8,"type":"quantitative","axis":{"values":[0,0.25,0.5,0.75,1,1.25,1.5,1.75,2],"format":"~g","labelOverlap":false,"labelBound":false,"labelExpr":"datum.value % 0.5 == 0 ? datum.label : ''","title":"Normalized Intensity (a.u.)","titleX":-37,"titleY":164,"titleBaseline":"middle","titleAnchor":"middle","titleAlign":"center"}},"text":{"field":"t"}}}
 ]},
{"width":191.5,"height":164,
 "layer":[
  {"data":{"name":"d"},"transform":[{"filter":"datum.p=='b'"}],
   "encoding":{
    "x":{"field":"x","type":"quantitative","scale":{"domain":[-0.5,2],"nice":false,"zero":false},"axis":{"values":[-0.5,-0.25,0,0.25,0.5,0.75,1,1.25,1.5,1.75,2],"labels":false,"title":null}},
    "y":{"field":"y","type":"quantitative","scale":{"domain":[-0.2,2],"nice":false,"zero":false},"axis":{"values":[0,0.25,0.5,0.75,1,1.25,1.5,1.75,2],"labels":false,"title":null}}
   },
   "layer":[
    {"mark":{"type":"line","strokeWidth":1,"clip":true},"encoding":{"color":{"field":"s","type":"nominal","scale":{"domain":["Sn","Ti","Ge"],"range":["#1e3fa6","#dd1a26","#000000"]},"legend":null}}},
    {"transform":[{"filter":"datum.e>0"}],"mark":{"type":"errorbar","ticks":true,"color":"#333333","thickness":1},"encoding":{"yError":{"field":"e"}}},
    {"transform":[{"filter":"datum.s=='Sn'"}],"mark":{"type":"point","shape":"diamond","filled":true,"color":"#1e3fa6","opacity":1,"size":28,"clip":true}},
    {"transform":[{"filter":"datum.s=='Ti'"}],"mark":{"type":"point","shape":"square","filled":true,"color":"#dd1a26","opacity":1,"size":18,"clip":true}},
    {"transform":[{"filter":"datum.s=='Ge'"}],"mark":{"type":"point","shape":"circle","filled":true,"color":"#000000","opacity":1,"size":26,"clip":true}}
   ]},
  {"data":{"values":[{"t":"(b) Q = 0.5–0.7 Å⁻¹"}]},"mark":{"type":"rect","fill":"#ffffff","stroke":"#000000","strokeWidth":1},
   "encoding":{"x":{"datum":0.3,"type":"quantitative","axis":{"values":[-0.5,-0.25,0,0.25,0.5,0.75,1,1.25,1.5,1.75,2],"labels":false,"title":null}},"x2":{"datum":1.95},
    "y":{"datum":1.94,"type":"quantitative","axis":{"values":[0,0.25,0.5,0.75,1,1.25,1.5,1.75,2],"labels":false,"title":null}},"y2":{"datum":1.655}}},
  {"data":{"values":[{"t":"(b) Q = 0.5–0.7 Å⁻¹"}]},"mark":{"type":"text","fontSize":14,"color":"#000000"},
   "encoding":{"x":{"datum":1.125,"type":"quantitative","axis":{"values":[-0.5,-0.25,0,0.25,0.5,0.75,1,1.25,1.5,1.75,2],"labels":false,"title":null}},
    "y":{"datum":1.8,"type":"quantitative","axis":{"values":[0,0.25,0.5,0.75,1,1.25,1.5,1.75,2],"labels":false,"title":null}},"text":{"field":"t"}}}
 ]},
{"width":191.5,"height":164,
 "layer":[
  {"data":{"name":"d"},"transform":[{"filter":"datum.p=='c'"}],
   "encoding":{
    "x":{"field":"x","type":"quantitative","scale":{"domain":[-0.5,2],"nice":false,"zero":false},"axis":{"values":[-0.5,-0.25,0,0.25,0.5,0.75,1,1.25,1.5,1.75,2],"format":"~g","labelOverlap":false,"labelBound":false,"labelExpr":"datum.value % 0.5 == 0 ? datum.label : ''","title":"Energy (meV)","titleX":191.5,"titleY":29,"titleBaseline":"middle","titleAlign":"center","titleAnchor":"middle"}},
    "y":{"field":"y","type":"quantitative","scale":{"domain":[-0.2,2],"nice":false,"zero":false},"axis":{"values":[0,0.25,0.5,0.75,1,1.25,1.5,1.75,2],"format":"~g","labelOverlap":false,"labelBound":false,"labelExpr":"datum.value % 0.5 == 0 ? datum.label : ''","title":null}}
   },
   "layer":[
    {"mark":{"type":"line","strokeWidth":1,"clip":true},"encoding":{"color":{"field":"s","type":"nominal","scale":{"domain":["Sn","Ti","Ge"],"range":["#1e3fa6","#dd1a26","#000000"]},"legend":null}}},
    {"transform":[{"filter":"datum.e>0"}],"mark":{"type":"errorbar","ticks":true,"color":"#333333","thickness":1},"encoding":{"yError":{"field":"e"}}},
    {"transform":[{"filter":"datum.s=='Sn'"}],"mark":{"type":"point","shape":"diamond","filled":true,"color":"#1e3fa6","opacity":1,"size":28,"clip":true}},
    {"transform":[{"filter":"datum.s=='Ti'"}],"mark":{"type":"point","shape":"square","filled":true,"color":"#dd1a26","opacity":1,"size":18,"clip":true}},
    {"transform":[{"filter":"datum.s=='Ge'"}],"mark":{"type":"point","shape":"circle","filled":true,"color":"#000000","opacity":1,"size":26,"clip":true}}
   ]},
  {"data":{"values":[{"t":"(c) Q = 1.3–1.5 Å⁻¹"}]},"mark":{"type":"rect","fill":"#ffffff","stroke":"#000000","strokeWidth":1},
   "encoding":{"x":{"datum":0.3,"type":"quantitative","axis":{"values":[-0.5,-0.25,0,0.25,0.5,0.75,1,1.25,1.5,1.75,2],"format":"~g","labelOverlap":false,"labelBound":false,"labelExpr":"datum.value % 0.5 == 0 ? datum.label : ''","title":"Energy (meV)","titleX":191.5,"titleY":29,"titleBaseline":"middle","titleAlign":"center","titleAnchor":"middle"}},"x2":{"datum":1.95},
    "y":{"datum":1.94,"type":"quantitative","axis":{"values":[0,0.25,0.5,0.75,1,1.25,1.5,1.75,2],"format":"~g","labelOverlap":false,"labelBound":false,"labelExpr":"datum.value % 0.5 == 0 ? datum.label : ''","title":null}},"y2":{"datum":1.655}}},
  {"data":{"values":[{"t":"(c) Q = 1.3–1.5 Å⁻¹"}]},"mark":{"type":"text","fontSize":14,"color":"#000000"},
   "encoding":{"x":{"datum":1.125,"type":"quantitative","axis":{"values":[-0.5,-0.25,0,0.25,0.5,0.75,1,1.25,1.5,1.75,2],"format":"~g","labelOverlap":false,"labelBound":false,"labelExpr":"datum.value % 0.5 == 0 ? datum.label : ''","title":"Energy (meV)","titleX":191.5,"titleY":29,"titleBaseline":"middle","titleAlign":"center","titleAnchor":"middle"}},
    "y":{"datum":1.8,"type":"quantitative","axis":{"values":[0,0.25,0.5,0.75,1,1.25,1.5,1.75,2],"format":"~g","labelOverlap":false,"labelBound":false,"labelExpr":"datum.value % 0.5 == 0 ? datum.label : ''","title":null}},"text":{"field":"t"}}}
 ]},
{"width":191.5,"height":164,
 "layer":[
  {"data":{"name":"d"},"transform":[{"filter":"datum.p=='d'"}],
   "encoding":{
    "x":{"field":"x","type":"quantitative","scale":{"domain":[-0.5,2],"nice":false,"zero":false},"axis":{"values":[-0.5,-0.25,0,0.25,0.5,0.75,1,1.25,1.5,1.75,2],"format":"~g","labelOverlap":false,"labelBound":false,"labelExpr":"datum.value % 0.5 == 0 && datum.value > -0.5 ? datum.label : ''","title":null}},
    "y":{"field":"y","type":"quantitative","scale":{"domain":[-0.2,2],"nice":false,"zero":false},"axis":{"values":[0,0.25,0.5,0.75,1,1.25,1.5,1.75,2],"labels":false,"title":null}}
   },
   "layer":[
    {"mark":{"type":"line","strokeWidth":1,"clip":true},"encoding":{"color":{"field":"s","type":"nominal","scale":{"domain":["Sn","Ti","Ge"],"range":["#1e3fa6","#dd1a26","#000000"]},"legend":null}}},
    {"transform":[{"filter":"datum.e>0"}],"mark":{"type":"errorbar","ticks":true,"color":"#333333","thickness":1},"encoding":{"yError":{"field":"e"}}},
    {"transform":[{"filter":"datum.s=='Sn'"}],"mark":{"type":"point","shape":"diamond","filled":true,"color":"#1e3fa6","opacity":1,"size":28,"clip":true}},
    {"transform":[{"filter":"datum.s=='Ti'"}],"mark":{"type":"point","shape":"square","filled":true,"color":"#dd1a26","opacity":1,"size":18,"clip":true}},
    {"transform":[{"filter":"datum.s=='Ge'"}],"mark":{"type":"point","shape":"circle","filled":true,"color":"#000000","opacity":1,"size":26,"clip":true}}
   ]},
  {"data":{"values":[{"t":"(d) Q = 1.9–2.1 Å⁻¹"}]},"mark":{"type":"rect","fill":"#ffffff","stroke":"#000000","strokeWidth":1},
   "encoding":{"x":{"datum":0.3,"type":"quantitative","axis":{"values":[-0.5,-0.25,0,0.25,0.5,0.75,1,1.25,1.5,1.75,2],"format":"~g","labelOverlap":false,"labelBound":false,"labelExpr":"datum.value % 0.5 == 0 && datum.value > -0.5 ? datum.label : ''","title":null}},"x2":{"datum":1.95},
    "y":{"datum":1.94,"type":"quantitative","axis":{"values":[0,0.25,0.5,0.75,1,1.25,1.5,1.75,2],"labels":false,"title":null}},"y2":{"datum":1.655}}},
  {"data":{"values":[{"t":"(d) Q = 1.9–2.1 Å⁻¹"}]},"mark":{"type":"text","fontSize":14,"color":"#000000"},
   "encoding":{"x":{"datum":1.125,"type":"quantitative","axis":{"values":[-0.5,-0.25,0,0.25,0.5,0.75,1,1.25,1.5,1.75,2],"format":"~g","labelOverlap":false,"labelBound":false,"labelExpr":"datum.value % 0.5 == 0 && datum.value > -0.5 ? datum.label : ''","title":null}},
    "y":{"datum":1.8,"type":"quantitative","axis":{"values":[0,0.25,0.5,0.75,1,1.25,1.5,1.75,2],"labels":false,"title":null}},"text":{"field":"t"}}}
 ]}
]
}
